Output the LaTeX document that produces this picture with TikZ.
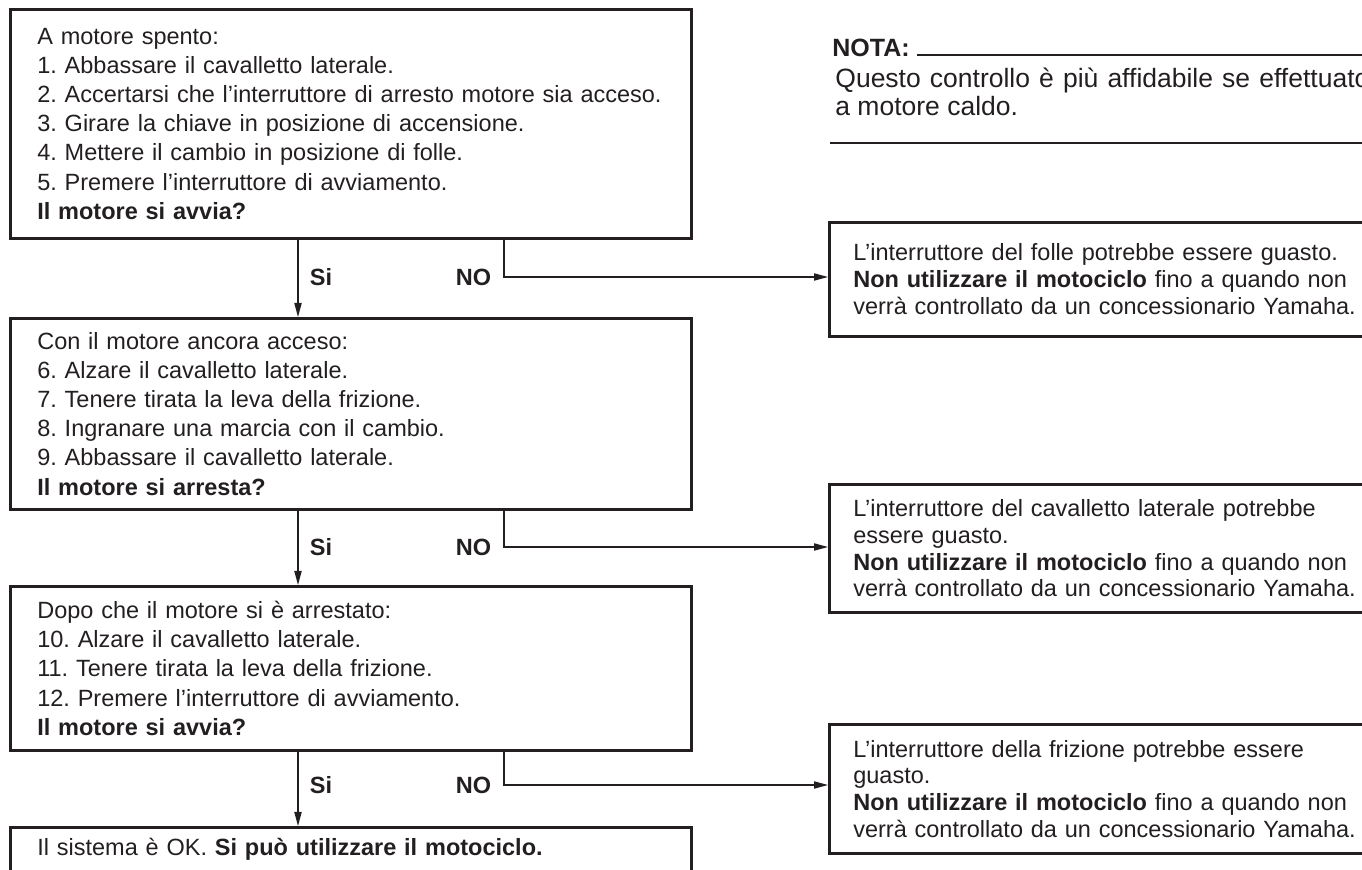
\documentclass[tikz,border=0pt]{standalone}
\usepackage{fontspec}
\setmainfont{Liberation Sans}
\usetikzlibrary{arrows.meta}
\definecolor{ink}{RGB}{35,31,32}
\frenchspacing
\hyphenpenalty=10000
\exhyphenpenalty=10000
\begin{document}
\begin{tikzpicture}[x=0.5pt,y=-0.5pt,
  lbox/.style={draw=ink, line width=1.3pt, anchor=north west, minimum width=340.5pt,
    text width=313.5pt, inner xsep=13.5pt, inner ysep=0pt, align=left, text=ink,
    font=\fontsize{11.75pt}{14.6pt}\selectfont},
  rbox/.style={draw=ink, line width=1.3pt, anchor=north west, minimum width=286pt,
    text width=262pt, inner xsep=12pt, inner ysep=0pt, align=left, text=ink,
    font=\fontsize{11.75pt}{13.35pt}\selectfont},
  lab/.style={font=\bfseries\fontsize{11.75pt}{14pt}\selectfont, text=ink, inner sep=0pt},
  conn/.style={draw=ink, line width=0.65pt},
  arr/.style={conn, -{Triangle[length=7pt,width=3.6pt]}}]
\clip (0,0) rectangle (1362,870);

% left column
\node[lbox, minimum height=114.5pt] (b1) at (9,8) {A motore spento:\\
1. Abbassare il cavalletto laterale.\\
2. Accertarsi che l’interruttore di arresto motore sia acceso.\\
3. Girare la chiave in posizione di accensione.\\
4. Mettere il cambio in posizione di folle.\\
5. Premere l’interruttore di avviamento.\\
\textbf{Il motore si avvia?}};
\node[lbox, minimum height=95.5pt] (b2) at (9,317) {Con il motore ancora acceso:\\
6. Alzare il cavalletto laterale.\\
7. Tenere tirata la leva della frizione.\\
8. Ingranare una marcia con il cambio.\\
9. Abbassare il cavalletto laterale.\\
\textbf{Il motore si arresta?}};
\node[lbox, minimum height=82pt] (b3) at (9,585) {Dopo che il motore si è arrestato:\\
10. Alzare il cavalletto laterale.\\
11. Tenere tirata la leva della frizione.\\
12. Premere l’interruttore di avviamento.\\
\textbf{Il motore si avvia?}};
\node[lbox, inner ysep=4pt, text height=10pt, text depth=30pt] (b4) at (9,826)
  {Il sistema è OK. \textbf{Si può utilizzare il motociclo.}};

% right column
\node[rbox, minimum height=57pt] (r1) at (828,221) {L’interruttore del folle potrebbe essere guasto.\\
\textbf{Non utilizzare il motociclo} fino a quando non\\
verrà controllato da un concessionario Yamaha.};
\node[rbox, minimum height=64pt] (r2) at (828,483) {L’interruttore del cavalletto laterale potrebbe\\
essere guasto.\\
\textbf{Non utilizzare il motociclo} fino a quando non\\
verrà controllato da un concessionario Yamaha.};
\node[rbox, minimum height=64.5pt] (r3) at (828,723) {L’interruttore della frizione potrebbe essere\\
guasto.\\
\textbf{Non utilizzare il motociclo} fino a quando non\\
verrà controllato da un concessionario Yamaha.};

% note
\node[anchor=base west, inner sep=0pt, text=ink, font=\bfseries\fontsize{12.5pt}{14pt}\selectfont] (nota) at (832,57) {NOTA:};
\draw[conn] (917,55) -- (1370,55);
\node[anchor=base west, inner sep=0pt, align=left, text=ink, font=\fontsize{13.25pt}{14pt}\selectfont] (notatxt) at (835,116)
  {\makebox[267pt][s]{Questo controllo è più affidabile se effettuato}\\a motore caldo.};
\draw[conn] (830,143) -- (1370,143);

% connectors
\coordinate (sx) at (298,0);
\coordinate (n1) at (504,277);
\coordinate (n2) at (504,547);
\coordinate (n3) at (504,785);
\draw[arr] (b1.south -| sx) -- (b2.north -| sx);
\draw[arr] (b2.south -| sx) -- (b3.north -| sx);
\draw[arr] (b3.south -| sx) -- (b4.north -| sx);
\draw[arr] (b1.south -| n1) -- (n1) -- (n1 -| r1.west);
\draw[arr] (b2.south -| n2) -- (n2) -- (n2 -| r2.west);
\draw[arr] (b3.south -| n3) -- (n3) -- (n3 -| r3.west);

% labels
\node[lab] (si1) at (321,277) {Si};
\node[lab] (no1) at (473.5,277) {NO};
\node[lab] (si2) at (321,547) {Si};
\node[lab] (no2) at (473.5,547) {NO};
\node[lab] (si3) at (321,785) {Si};
\node[lab] (no3) at (473.5,785) {NO};
\end{tikzpicture}
\end{document}
